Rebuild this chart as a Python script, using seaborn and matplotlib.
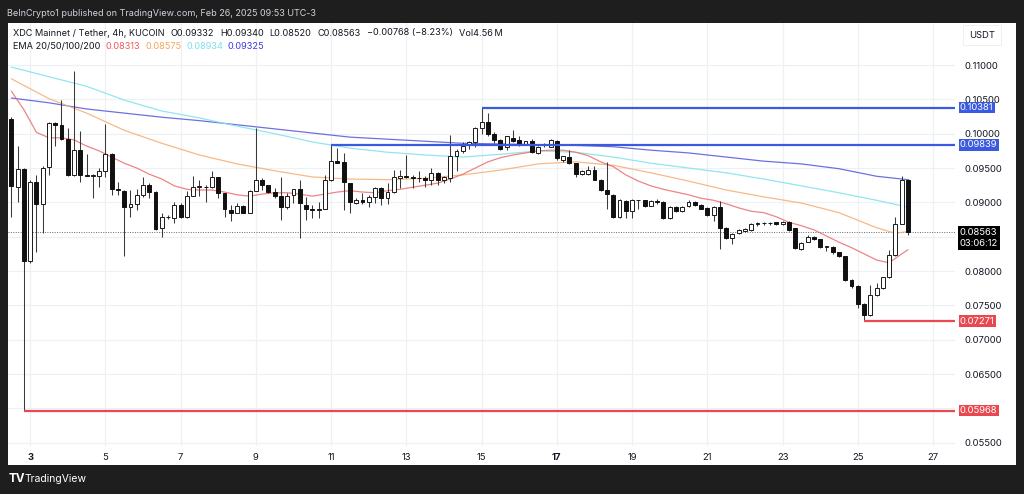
import numpy as np
import pandas as pd
import matplotlib
matplotlib.use("Agg")
import matplotlib.pyplot as plt
import seaborn as sns
from matplotlib.transforms import blended_transform_factory

# ---------------- data (4h candles, first candle Feb 2 12:00) ----------------
opens = [0.1022, 0.0923, 0.0948, 0.0814, 0.0930, 0.0897, 0.0952, 0.1016, 0.1012, 0.0992,
         0.0940, 0.0976, 0.0940, 0.0939, 0.0939, 0.0946, 0.0971, 0.0920, 0.0917, 0.0893,
         0.0898, 0.0911, 0.0925, 0.0915, 0.0862, 0.0878, 0.0877, 0.0896, 0.0878, 0.0909,
         0.0923, 0.0923, 0.0922, 0.0937, 0.0913, 0.0889, 0.0885, 0.0895, 0.0885, 0.0917,
         0.0933, 0.0925, 0.0915, 0.0909, 0.0893, 0.0911, 0.0919, 0.0896, 0.0890, 0.0889,
         0.0890, 0.0932, 0.0960, 0.0959, 0.0928, 0.0899, 0.0904, 0.0901, 0.0908, 0.0921,
         0.0906, 0.0915, 0.0936, 0.0938, 0.0937, 0.0936, 0.0935, 0.0932, 0.0943, 0.0932,
         0.0936, 0.0968, 0.0975, 0.0983, 0.0988, 0.1008, 0.1017, 0.0999, 0.0991, 0.0980,
         0.0994, 0.0991, 0.0985, 0.0989, 0.0972, 0.0983, 0.0981, 0.0990, 0.0962, 0.0966,
         0.0958, 0.0942, 0.0942, 0.0947, 0.0933, 0.0918, 0.0911, 0.0878, 0.0902, 0.0887,
         0.0903, 0.0903, 0.0895, 0.0902, 0.0901, 0.0877, 0.0893, 0.0887, 0.0894, 0.0901,
         0.0896, 0.0892, 0.0882, 0.0893, 0.0862, 0.0848, 0.0855, 0.0858, 0.0860, 0.0869,
         0.0870, 0.0870, 0.0871, 0.0868, 0.0872, 0.0862, 0.0832, 0.0843, 0.0850, 0.0846,
         0.0835, 0.0835, 0.0827, 0.0822, 0.0787, 0.0778, 0.0752, 0.0736, 0.0765, 0.0775,
         0.0791, 0.0823, 0.0869, 0.09332]
highs = [0.1024, 0.0982, 0.0950, 0.0932, 0.0940, 0.0953, 0.1017, 0.1017, 0.1049, 0.1008,
         0.1091, 0.1004, 0.0971, 0.0941, 0.0950, 0.1014, 0.0972, 0.0930, 0.0918, 0.0918,
         0.0920, 0.0937, 0.0928, 0.0916, 0.0884, 0.0881, 0.0901, 0.0899, 0.0916, 0.0938,
         0.0933, 0.0925, 0.0945, 0.0937, 0.0913, 0.0896, 0.0899, 0.0896, 0.0918, 0.1008,
         0.0935, 0.0925, 0.0921, 0.0937, 0.0913, 0.0920, 0.0933, 0.0908, 0.0896, 0.0901,
         0.0940, 0.0984, 0.0979, 0.0972, 0.0928, 0.0906, 0.0913, 0.0910, 0.0923, 0.0923,
         0.0928, 0.0947, 0.0947, 0.0969, 0.0940, 0.0945, 0.0938, 0.0950, 0.0944, 0.0938,
         0.0998, 0.0977, 0.0988, 0.0990, 0.1010, 0.1038, 0.1030, 0.1003, 0.0993, 0.0996,
         0.1006, 0.0996, 0.0990, 0.0992, 0.0982, 0.0987, 0.0993, 0.0991, 0.0968, 0.0976,
         0.0958, 0.0947, 0.0953, 0.0953, 0.0934, 0.0959, 0.0912, 0.0905, 0.0904, 0.0905,
         0.0904, 0.0904, 0.0904, 0.0905, 0.0902, 0.0894, 0.0895, 0.0894, 0.0903, 0.0902,
         0.0897, 0.0893, 0.0894, 0.0902, 0.0864, 0.0856, 0.0861, 0.0863, 0.0870, 0.0872,
         0.0872, 0.0872, 0.0872, 0.0873, 0.0873, 0.0862, 0.0842, 0.0852, 0.0851, 0.0847,
         0.0837, 0.0836, 0.0828, 0.0822, 0.0789, 0.0779, 0.0754, 0.0780, 0.0783, 0.0792,
         0.0831, 0.0878, 0.0938, 0.09340]
lows = [0.0879, 0.0901, 0.0597, 0.0812, 0.0828, 0.0855, 0.0940, 0.0982, 0.0991, 0.0939,
        0.0939, 0.0929, 0.0938, 0.0906, 0.0923, 0.0937, 0.0911, 0.0911, 0.0822, 0.0878,
        0.0889, 0.0908, 0.0906, 0.0860, 0.0850, 0.0876, 0.0870, 0.0877, 0.0877, 0.0909,
        0.0909, 0.0901, 0.0921, 0.0906, 0.0879, 0.0873, 0.0884, 0.0884, 0.0884, 0.0917,
        0.0918, 0.0913, 0.0906, 0.0875, 0.0891, 0.0899, 0.0848, 0.0874, 0.0877, 0.0877,
        0.0890, 0.0931, 0.0957, 0.0889, 0.0885, 0.0898, 0.0898, 0.0893, 0.0899, 0.0896,
        0.0898, 0.0913, 0.0921, 0.0936, 0.0921, 0.0930, 0.0923, 0.0926, 0.0926, 0.0928,
        0.0929, 0.0945, 0.0972, 0.0977, 0.0980, 0.1000, 0.0996, 0.0986, 0.0976, 0.0976,
        0.0988, 0.0982, 0.0983, 0.0972, 0.0970, 0.0980, 0.0980, 0.0962, 0.0959, 0.0956,
        0.0937, 0.0940, 0.0940, 0.0932, 0.0916, 0.0890, 0.0877, 0.0877, 0.0877, 0.0877,
        0.0890, 0.0893, 0.0894, 0.0897, 0.0876, 0.0876, 0.0886, 0.0886, 0.0893, 0.0895,
        0.0890, 0.0880, 0.0873, 0.0832, 0.0846, 0.0840, 0.0854, 0.0857, 0.0859, 0.0866,
        0.0867, 0.0867, 0.0867, 0.0867, 0.0859, 0.0832, 0.0830, 0.0842, 0.0845, 0.0833,
        0.0829, 0.0825, 0.0821, 0.0786, 0.0776, 0.0746, 0.0727, 0.0735, 0.0764, 0.0774,
        0.0790, 0.0822, 0.0868, 0.08520]
closes = [0.0924, 0.0948, 0.0815, 0.0930, 0.0897, 0.0950, 0.1016, 0.1012, 0.0992, 0.0940,
          0.0976, 0.0940, 0.0939, 0.0940, 0.0946, 0.0971, 0.0920, 0.0918, 0.0893, 0.0898,
          0.0911, 0.0925, 0.0915, 0.0861, 0.0879, 0.0879, 0.0896, 0.0879, 0.0909, 0.0923,
          0.0924, 0.0922, 0.0937, 0.0913, 0.0890, 0.0885, 0.0895, 0.0885, 0.0916, 0.0933,
          0.0925, 0.0915, 0.0909, 0.0893, 0.0909, 0.0919, 0.0899, 0.0890, 0.0889, 0.0891,
          0.0932, 0.0960, 0.0958, 0.0930, 0.0900, 0.0904, 0.0901, 0.0908, 0.0921, 0.0906,
          0.0915, 0.0937, 0.0938, 0.0937, 0.0936, 0.0935, 0.0932, 0.0943, 0.0932, 0.0937,
          0.0968, 0.0975, 0.0982, 0.0988, 0.1008, 0.1017, 0.1000, 0.0991, 0.0977, 0.0996,
          0.0990, 0.0985, 0.0989, 0.0974, 0.0980, 0.0984, 0.0991, 0.0964, 0.0967, 0.0958,
          0.0942, 0.0945, 0.0947, 0.0933, 0.0918, 0.0912, 0.0879, 0.0903, 0.0887, 0.0903,
          0.0903, 0.0895, 0.0902, 0.0901, 0.0877, 0.0893, 0.0888, 0.0893, 0.0901, 0.0896,
          0.0891, 0.0882, 0.0893, 0.0862, 0.0848, 0.0854, 0.0860, 0.0861, 0.0869, 0.0870,
          0.0870, 0.0870, 0.0868, 0.0872, 0.0860, 0.0833, 0.0841, 0.0850, 0.0846, 0.0835,
          0.0836, 0.0827, 0.0822, 0.0787, 0.0778, 0.0752, 0.0736, 0.0765, 0.0775, 0.0791,
          0.0823, 0.0869, 0.0933, 0.08563]

# EMA lines (candle index -> value)
ema20_idx = list(range(0, 141, 2)) + [142, 143]
ema20 = [0.1062, 0.1035, 0.1002, 0.0994, 0.0994, 0.0991, 0.0982, 0.0975, 0.0966, 0.0957,
         0.0950, 0.0941, 0.0934, 0.0924, 0.0919, 0.0918, 0.0918, 0.0915, 0.0911, 0.0909,
         0.0912, 0.0914, 0.0914, 0.0912, 0.0909, 0.0912, 0.0915, 0.0917, 0.0915, 0.0914,
         0.0917, 0.0919, 0.0922, 0.0925, 0.0928, 0.0934, 0.0941, 0.0950, 0.0959, 0.0965,
         0.0969, 0.0972, 0.0975, 0.0976, 0.0976, 0.0973, 0.0968, 0.0959, 0.0952, 0.0940,
         0.0931, 0.0924, 0.0919, 0.0915, 0.0911, 0.0906, 0.0903, 0.0898, 0.0892, 0.0887,
         0.0885, 0.0879, 0.0871, 0.0866, 0.0860, 0.0851, 0.0842, 0.0834, 0.0825, 0.0816,
         0.0812, 0.0825, 0.0831]
ema50_idx = list(range(0, 139, 6)) + [141, 143]
ema50 = [0.1080, 0.1051, 0.1030, 0.1005, 0.0986, 0.0969, 0.0956, 0.0946, 0.0937, 0.0934,
         0.0933, 0.0935, 0.0940, 0.0947, 0.0956, 0.0959, 0.0954, 0.0943, 0.0931, 0.0918,
         0.0908, 0.0899, 0.0885, 0.0863, 0.0855, 0.08575]
ema100_idx = list(range(0, 139, 6)) + [143]
ema100 = [0.1097, 0.1083, 0.1069, 0.1049, 0.1033, 0.1023, 0.1011, 0.1000, 0.0988, 0.0979,
          0.0973, 0.0969, 0.0966, 0.0970, 0.0975, 0.0973, 0.0966, 0.0957, 0.0950, 0.0943,
          0.0934, 0.0924, 0.0914, 0.0903, 0.0893]
ema200_idx = list(range(0, 139, 6)) + [143]
ema200 = [0.1052, 0.1045, 0.1036, 0.1030, 0.1024, 0.1019, 0.1013, 0.1007, 0.1001, 0.0995,
          0.0992, 0.0989, 0.0986, 0.0985, 0.0984, 0.0983, 0.0981, 0.0976, 0.0972, 0.0966,
          0.0960, 0.0956, 0.0949, 0.0938, 0.0933]

day_ticks = [3, 5, 7, 9, 11, 13, 15, 17, 19, 21, 23, 25, 27]
bold_days = [3, 17]
price_ticks = [0.055, 0.060, 0.065, 0.070, 0.075, 0.080, 0.085, 0.090, 0.095, 0.100, 0.105, 0.110]
hidden_price_labels = [0.060, 0.085]   # covered by the price badges on the reference

# horizontal rays: (price, start candle index, colour)
rays = [(0.10381, 75, "#3a5ae0"), (0.09839, 51, "#3a5ae0"),
        (0.07271, 136, "#e8484f"), (0.05968, 2, "#e8484f")]
last_price = 0.08563

legend_line1 = ["XDC Mainnet / Tether, 4h, KUCOIN", "O0.09332", "H0.09340", "L0.08520",
                "C0.08563", "\u22120.00768 (\u22128.23%)", "Vol4.56\u2009M"]
legend_line2 = ["EMA 20/50/100/200", "0.08313", "0.08575", "0.08934", "0.09325"]
legend_line2_colors = ["#131722", "#f05a5a", "#f5a45c", "#7fe0ec", "#3c3cdc"]

# ---------------- figure ----------------
sns.set_style("white")
plt.rcParams["font.family"] = ["Inter", "DejaVu Sans"]

W, H = 1024, 494
fig = plt.figure(figsize=(W / 100, H / 100), dpi=100)
fig.patch.set_facecolor("#1e1e1e")

def fx(px):
    return px / W

def fy(py):
    return 1 - py / H

# white chart panel (behind the axes)
panel = fig.add_axes([fx(8), fy(465), fx(1016) - fx(8), fy(23) - fy(465)], zorder=-5)
panel.set_facecolor("white")
panel.set_xticks([]); panel.set_yticks([])
for s in panel.spines.values():
    s.set_visible(False)

ax = fig.add_axes([fx(8), fy(446), fx(955) - fx(8), fy(23) - fy(446)], zorder=1)
ax.set_facecolor("white")
for s in ax.spines.values():
    s.set_visible(False)

n = len(opens)
idx = np.arange(n)
df = pd.DataFrame({"i": idx, "o": opens, "h": highs, "l": lows, "c": closes})
up = df["c"] >= df["o"]

# grid
for d in day_ticks:
    ax.axvline((d - 2.5) * 6, color="#eef0f5", lw=0.9, zorder=0)
for p in price_ticks:
    ax.axhline(p, color="#eef0f5", lw=0.9, zorder=0)

# EMAs
sns.lineplot(x=ema200_idx, y=ema200, ax=ax, color="#5656dc", lw=0.9, alpha=0.85, zorder=2)
sns.lineplot(x=ema100_idx, y=ema100, ax=ax, color="#86e3ee", lw=0.9, alpha=0.9, zorder=2)
sns.lineplot(x=ema50_idx, y=ema50, ax=ax, color="#f5b27a", lw=0.9, alpha=0.9, zorder=2)
sns.lineplot(x=ema20_idx, y=ema20, ax=ax, color="#ec6f6f", lw=0.9, alpha=0.85, zorder=2)

# candles
ax.vlines(df["i"], df["l"], df["h"], color="#3a3a3a", lw=0.75, zorder=3)
body_lo = np.minimum(df["o"], df["c"])
body_h = np.maximum(np.abs(df["c"] - df["o"]), 0.00006)
ax.bar(df["i"][up], body_h[up], bottom=body_lo[up], width=0.62, color="white",
       edgecolor="#1a1a1a", linewidth=0.7, zorder=4)
ax.bar(df["i"][~up], body_h[~up], bottom=body_lo[~up], width=0.62, color="#111111",
       edgecolor="#111111", linewidth=0.7, zorder=4)

xmin, xmax = -0.53, 150.5
for price, start, col in rays:
    ax.hlines(price, start, xmax, color=col, lw=1.6, zorder=5)
ax.axhline(last_price, color="#666666", lw=0.7, ls=(0, (1, 1.5)), zorder=1)

ax.set_xlim(xmin, xmax)
ax.set_ylim(0.05452, 0.11612)

ax.set_xticks([(d - 2.5) * 6 for d in day_ticks])
ax.set_xticklabels([str(d) for d in day_ticks])
for lab, d in zip(ax.get_xticklabels(), day_ticks):
    lab.set_fontweight("bold" if d in bold_days else "normal")
ax.tick_params(axis="x", length=0, pad=5, labelsize=6.8, colors="#131722")
ax.set_yticks(price_ticks)
ax.set_yticklabels(["" if any(abs(p - h) < 1e-9 for h in hidden_price_labels) else f"{p:.5f}"
                    for p in price_ticks])
ax.yaxis.tick_right()
ax.tick_params(axis="y", length=0, pad=7, labelsize=6.8, colors="#131722")

# price-axis badges
tr = blended_transform_factory(ax.transAxes, ax.transData)
bx = (960 - 8) / (955 - 8)
for price, start, col in rays:
    ax.text(bx, price, f"{price:.5f}", transform=tr, ha="left", va="center", fontsize=6.8,
            color="white", clip_on=False, zorder=10,
            bbox=dict(boxstyle="square,pad=0.15", fc=col, ec="none"))
ax.text(bx, last_price - 0.0008, f"{last_price:.5f}\n03:06:12", transform=tr, ha="left",
        va="center", fontsize=6.8, color="white", clip_on=False, zorder=10, linespacing=1.25,
        bbox=dict(boxstyle="square,pad=0.2", fc="#000000", ec="none"))

fig.text(fx(982), fy(35), "USDT", ha="center", va="center", fontsize=6.8, color="#131722",
         bbox=dict(boxstyle="square,pad=0.6", fc="white", ec="#eeeeee", lw=0.6))

# header
fig.text(fx(7), fy(14), "BeInCrypto1 published on TradingView.com, Feb 26, 2025 09:53 UTC-3",
         ha="left", va="center", fontsize=6.5, color="#d1d4dc")

# legend lines laid out one piece after another
renderer = fig.canvas.get_renderer()

def text_row(pieces, colors, x0, y, gap):
    x = x0
    for t, c in zip(pieces, colors):
        txt = fig.text(fx(x), fy(y), t, ha="left", va="center", fontsize=6.6, color=c)
        bb = txt.get_window_extent(renderer=renderer)
        x = bb.x1 + gap

text_row(legend_line1, ["#131722"] * len(legend_line1), 13, 33, 6)
text_row(legend_line2, legend_line2_colors, 13, 46.5, 5)

# footer logo
fig.text(fx(9), fy(479), "TV", ha="left", va="center", fontsize=8.5, color="white", fontweight="bold")
fig.text(fx(25), fy(479), "TradingView", ha="left", va="center", fontsize=7.5, color="white")

fig.savefig("out.png", dpi=100, facecolor=fig.get_facecolor())
